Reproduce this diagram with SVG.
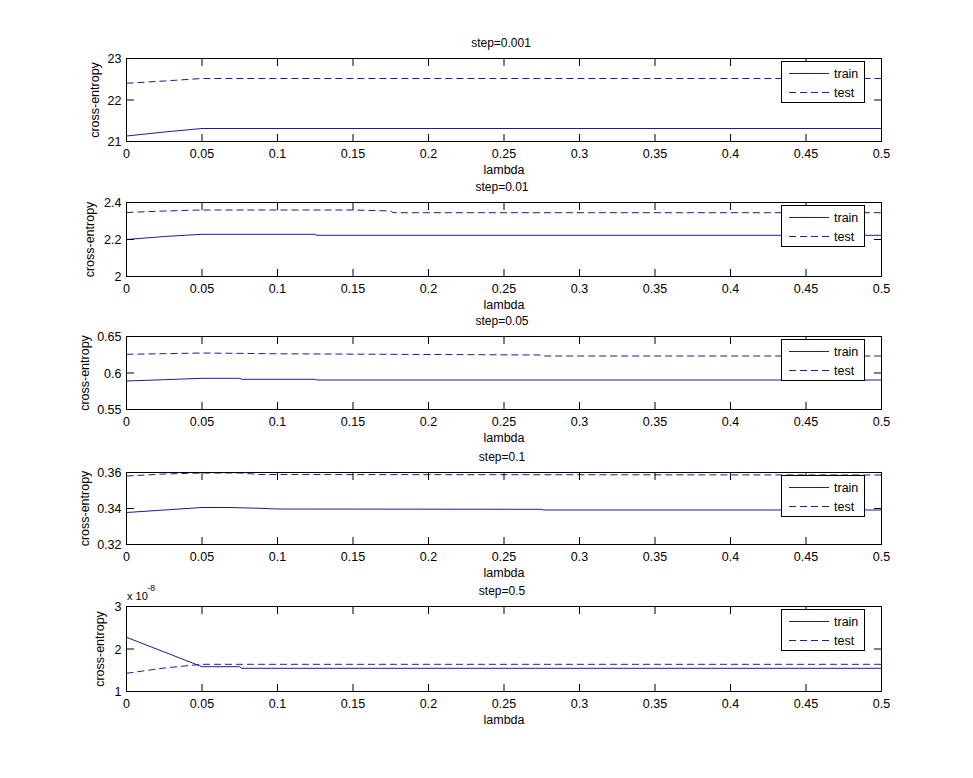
<svg xmlns="http://www.w3.org/2000/svg" xmlns:xlink="http://www.w3.org/1999/xlink" width="973" height="778" viewBox="0 0 973 778">
<style>
text{font-family:"Liberation Sans",Arial,sans-serif;font-size:12.5px;fill:#000}
.box{fill:none;stroke:#000;stroke-width:1}
.tk{fill:none;stroke:#000;stroke-width:1}
.tr{fill:none;stroke:#1c1c9c;stroke-width:1}
.te{fill:none;stroke:#1c1c9c;stroke-width:1;stroke-dasharray:7 4}
.leg{fill:#fff;stroke:#000;stroke-width:1}
.m{text-anchor:middle}
.e{text-anchor:end}
.ttl{font-size:12px}
</style>
<defs>
<path id="xtb" class="tk" d="M202 0v-7.5M277.5 0v-7.5M353 0v-7.5M428.5 0v-7.5M504 0v-7.5M579.5 0v-7.5M655 0v-7.5M730.5 0v-7.5M806 0v-7.5"/>
<path id="xtt" class="tk" d="M202 0v7.5M277.5 0v7.5M353 0v7.5M428.5 0v7.5M504 0v7.5M579.5 0v7.5M655 0v7.5M730.5 0v7.5M806 0v7.5"/>
<g id="xlab" class="m">
<text x="126.5">0</text><text x="202">0.05</text><text x="277.5">0.1</text><text x="353">0.15</text><text x="428.5">0.2</text><text x="504">0.25</text><text x="579.5">0.3</text><text x="655">0.35</text><text x="730.5">0.4</text><text x="806">0.45</text><text x="881.5">0.5</text>
</g>
<g id="legend">
<rect class="leg" x="781.5" y="0" width="83" height="41"/>
<path class="tr" d="M789 12H829"/>
<text x="834" y="16">train</text>
<path class="te" d="M789 31H829"/>
<text x="834" y="35">test</text>
</g>
</defs>

<rect x="0" y="0" width="973" height="778" fill="#fff"/>

<g id="plot1">
<text class="m ttl" x="501" y="47">step=0.001</text>
<path class="tr" d="M126.5 136L164.25 132L202 128.5H881.5"/>
<path class="te" d="M126.5 83.3L164.25 81L202 78.5H881.5"/>
<rect class="box" x="126.5" y="58.5" width="755" height="83"/>
<use xlink:href="#xtt" y="58.5"/>
<use xlink:href="#xtb" y="141.5"/>
<path class="tk" d="M126.5 100h7.5M881.5 100h-7.5"/>
<g class="e"><text x="121.5" y="63">23</text><text x="121.5" y="104.5">22</text><text x="121.5" y="146">21</text></g>
<text class="m" transform="translate(99 100) rotate(-90)">cross-entropy</text>
<use xlink:href="#xlab" y="157.5"/>
<text class="m" x="504" y="174">lambda</text>
<use xlink:href="#legend" y="61.5"/>
</g>

<g id="plot2">
<text class="m ttl" x="502" y="191">step=0.01</text>
<path class="tr" d="M126.5 239.5L164.25 236.5L202 234.3H315.25L317 235.3H881.5"/>
<path class="te" d="M126.5 212.5L164.25 211L202 210H353L390.75 211L393 212.7H881.5"/>
<rect class="box" x="126.5" y="202.5" width="755" height="74"/>
<use xlink:href="#xtt" y="202.5"/>
<use xlink:href="#xtb" y="276.5"/>
<path class="tk" d="M126.5 239.5h7.5M881.5 239.5h-7.5"/>
<g class="e"><text x="121.5" y="207">2.4</text><text x="121.5" y="244">2.2</text><text x="121.5" y="281">2</text></g>
<text class="m" transform="translate(94 239.5) rotate(-90)">cross-entropy</text>
<use xlink:href="#xlab" y="292.5"/>
<text class="m" x="504" y="309">lambda</text>
<use xlink:href="#legend" y="205.5"/>
</g>

<g id="plot3">
<text class="m ttl" x="502" y="325">step=0.05</text>
<path class="tr" d="M126.5 381L164.25 379.7L202 378.3H239.75L241.5 379.3H315.25L317 380H881.5"/>
<path class="te" d="M126.5 354.3L164.25 353.7L202 353L277.5 353.8L541.75 355L543.5 356H881.5"/>
<rect class="box" x="126.5" y="336.5" width="755" height="73"/>
<use xlink:href="#xtt" y="336.5"/>
<use xlink:href="#xtb" y="409.5"/>
<path class="tk" d="M126.5 373h7.5M881.5 373h-7.5"/>
<g class="e"><text x="121.5" y="341">0.65</text><text x="121.5" y="377.5">0.6</text><text x="121.5" y="414">0.55</text></g>
<text class="m" transform="translate(89 373) rotate(-90)">cross-entropy</text>
<use xlink:href="#xlab" y="425.5"/>
<text class="m" x="504" y="442">lambda</text>
<use xlink:href="#legend" y="339.5"/>
</g>

<g id="plot4">
<text class="m ttl" x="502" y="461">step=0.1</text>
<path class="tr" d="M126.5 512.5L164.25 510L202 507.5H230L260 508.3L277.5 509L541.75 509.3L543.5 510H881.5"/>
<path class="te" d="M126.5 476L164.25 474L202 473H239.75L260 474.5L881.5 475"/>
<rect class="box" x="126.5" y="472.5" width="755" height="72"/>
<use xlink:href="#xtt" y="472.5"/>
<use xlink:href="#xtb" y="544.5"/>
<path class="tk" d="M126.5 508.5h7.5M881.5 508.5h-7.5"/>
<g class="e"><text x="121.5" y="477">0.36</text><text x="121.5" y="513">0.34</text><text x="121.5" y="549">0.32</text></g>
<text class="m" transform="translate(89 508.5) rotate(-90)">cross-entropy</text>
<use xlink:href="#xlab" y="560.5"/>
<text class="m" x="504" y="577">lambda</text>
<use xlink:href="#legend" y="475.5"/>
</g>

<g id="plot5">
<text class="m ttl" x="502" y="595">step=0.5</text>
<path class="tr" d="M126.5 637.3L164.25 652L202 666.7H239.75L241.5 668.3H881.5"/>
<path class="te" d="M126.5 673.3L164.25 668L202 664.3H881.5"/>
<rect class="box" x="126.5" y="606.5" width="755" height="85"/>
<use xlink:href="#xtt" y="606.5"/>
<use xlink:href="#xtb" y="691.5"/>
<path class="tk" d="M126.5 649h7.5M881.5 649h-7.5"/>
<g class="e"><text x="121.5" y="611">3</text><text x="121.5" y="653.5">2</text><text x="121.5" y="696">1</text></g>
<text x="127" y="600" style="font-size:11px">x 10</text>
<text x="147.5" y="590.5" style="font-size:8.5px">-8</text>
<text class="m" transform="translate(104 649) rotate(-90)">cross-entropy</text>
<use xlink:href="#xlab" y="707.5"/>
<text class="m" x="504" y="724">lambda</text>
<use xlink:href="#legend" y="609.5"/>
</g>
</svg>
